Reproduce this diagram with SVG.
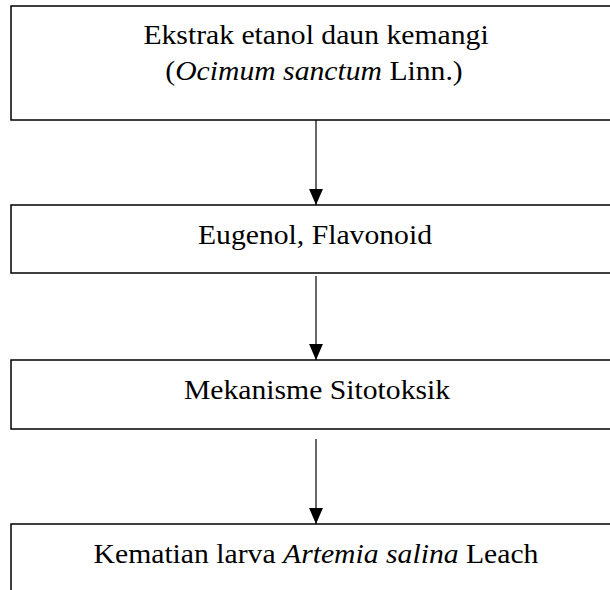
<svg xmlns="http://www.w3.org/2000/svg" width="610" height="590" viewBox="0 0 610 590">
<defs>
<style>
.box{fill:#fff;stroke:#000;stroke-width:1.5}
.t{font-family:"Liberation Serif","Times New Roman",serif;font-size:28px;fill:#000;text-anchor:middle}
.i{font-style:italic}
.c{stroke:#000;stroke-width:1.2;fill:none}
</style>
<marker id="ah" markerUnits="userSpaceOnUse" markerWidth="16" markerHeight="14" refX="15" refY="6.5" orient="auto" viewBox="0 0 15 13">
<path d="M0,0 L15,6.5 L0,13 Z" fill="#000"/>
</marker>
</defs>
<rect width="610" height="590" fill="#fff"/>
<g id="connectors">
<line class="c" x1="316" y1="120" x2="316" y2="205" marker-end="url(#ah)"/>
<line class="c" x1="316" y1="276" x2="316" y2="360" marker-end="url(#ah)"/>
<line class="c" x1="316" y1="439" x2="316" y2="524" marker-end="url(#ah)"/>
</g>
<g id="node1">
<rect class="box" x="11" y="6" width="620" height="114"/>
<text class="t" transform="translate(316,44) scale(1.06,1)">Ekstrak etanol daun kemangi</text>
<text class="t" transform="translate(314,80) scale(1.06,1)">(<tspan class="i">Ocimum sanctum</tspan> Linn.)</text>
</g>
<g id="node2">
<rect class="box" x="11" y="205" width="620" height="68"/>
<text class="t" transform="translate(315,244) scale(1.06,1)">Eugenol, Flavonoid</text>
</g>
<g id="node3">
<rect class="box" x="11" y="360" width="620" height="69"/>
<text class="t" transform="translate(317,399) scale(1.06,1)">Mekanisme Sitotoksik</text>
</g>
<g id="node4">
<rect class="box" x="11" y="524" width="620" height="80"/>
<text class="t" transform="translate(316,563) scale(1.06,1)">Kematian larva <tspan class="i">Artemia salina</tspan> Leach</text>
</g>
</svg>
